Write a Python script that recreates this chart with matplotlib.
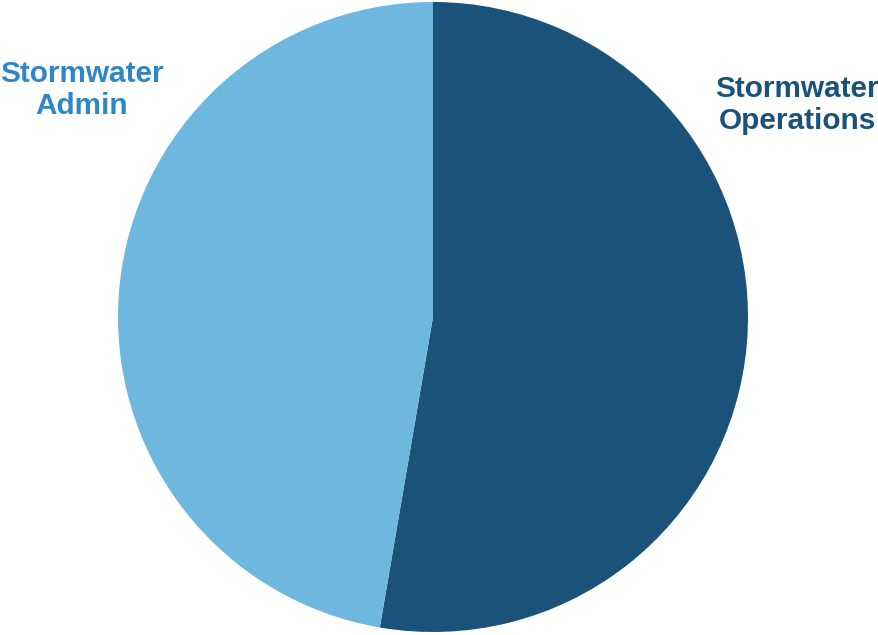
import matplotlib
matplotlib.use("Agg")
import matplotlib.pyplot as plt

labels = ["Stormwater\nOperations", "Stormwater\nAdmin"]
values = [52.7, 47.3]
colors = ["#1B527A", "#6EB8DF"]
label_colors = ["#1B527A", "#2E86C9"]

W, H = 879, 635
fig = plt.figure(figsize=(W / 100, H / 100), dpi=100)

cx, cy, r = 433, 317, 315
ax = fig.add_axes([(cx - r) / W, (H - cy - r) / H, 2 * r / W, 2 * r / H])
ax.pie(values, colors=colors, startangle=90, counterclock=False,
       wedgeprops=dict(linewidth=0))
ax.set_aspect("equal")
ax.set_xlim(-1, 1)
ax.set_ylim(-1, 1)
ax.axis("off")

# label positions in pixels
label_pos = [(797, 105), (82, 90)]
for lab, col, (x, y) in zip(labels, label_colors, label_pos):
    fig.text(x / W, 1 - y / H, lab, ha="center", va="center", ma="center",
             color=col, fontsize=21.4, fontweight="bold",
             family="Liberation Sans", linespacing=1.15)

fig.savefig("out.png", dpi=100)
